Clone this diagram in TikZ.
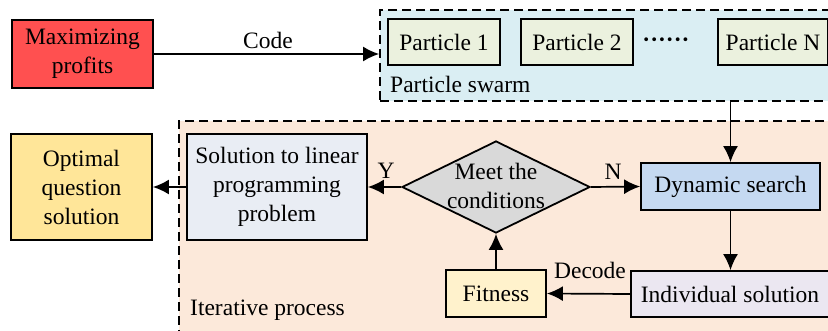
\documentclass[tikz,border=0pt]{standalone}
\usepackage{fontspec}
\setmainfont{Liberation Serif}
\usetikzlibrary{arrows.meta,shapes.geometric}
\definecolor{cRed}{HTML}{FF5050}
\definecolor{cSwarm}{HTML}{DAEEF3}
\definecolor{cPart}{HTML}{EBF1DE}
\definecolor{cIter}{HTML}{FCE9DA}
\definecolor{cDyn}{HTML}{C5D9F1}
\definecolor{cDiam}{HTML}{D9D9D9}
\definecolor{cInd}{HTML}{EBE7F1}
\definecolor{cFit}{HTML}{FFF2CC}
\definecolor{cSol}{HTML}{E9EDF4}
\definecolor{cOpt}{HTML}{FFE699}
\tikzset{
  box/.style={draw=black, line width=1.8pt, inner sep=0pt, align=center,
    font=\fontsize{23.5}{29}\selectfont},
  region/.style={draw=black, line width=1.8pt, dash pattern=on 9pt off 5pt, inner sep=0pt},
  arr/.style={line width=1.7pt, -{Latex[length=16pt,width=15pt]}},
  lbl/.style={inner sep=0pt, font=\fontsize{23.5}{29}\selectfont}
}
\begin{document}
\begin{tikzpicture}[x=1pt,y=-1pt]
\clip (0,0) rectangle (828,330);
\fill[white] (0,0) rectangle (828,330);

% grouping regions
\node[region, fill=cSwarm, minimum width=460pt, minimum height=91pt] (swarm) at (610,55.5) {};
\node[region, fill=cIter, minimum width=661pt, minimum height=219pt] (iter) at (509.5,230.5) {};
\node[lbl, anchor=west] (swarmlbl) at (390,84) {Particle swarm};
\node[lbl, anchor=west] (iterlbl) at (190,310) {Iterative process};

% blocks
\node[box, fill=cRed, minimum width=141pt, minimum height=68pt] (maxp) at (82.5,54) {Maximizing\\profits};
\node[box, fill=cPart, minimum width=112pt, minimum height=46pt] (p1) at (444,42) {Particle 1};
\node[box, fill=cPart, minimum width=112pt, minimum height=46pt] (p2) at (577,42) {Particle 2};
\node[lbl] (dots) at (666,43) {\textbf{······}};
\node[box, fill=cPart, minimum width=110pt, minimum height=46pt] (pn) at (773,42) {Particle N};

\node[box, fill=cDyn, minimum width=179pt, minimum height=47pt] (ds) at (730.5,186.5) {Dynamic search};
\node[draw=black, line width=1.8pt, fill=cDiam, diamond, inner sep=0pt,
      minimum width=188pt, minimum height=92pt] (cond) at (496,187) {};
\node[lbl, align=center] (condtxt) at (496,186) {Meet the\\conditions};
\node[box, fill=cInd, minimum width=198pt, minimum height=46pt] (ind) at (730,294) {Individual solution};
\node[box, fill=cFit, minimum width=100pt, minimum height=47pt] (fit) at (496,293.5) {Fitness};
\node[box, fill=cSol, minimum width=180pt, minimum height=106pt] (sol) at (277,187) {Solution to linear\\programming\\problem};
\node[box, fill=cOpt, minimum width=141pt, minimum height=106pt] (opt) at (81.5,187) {Optimal\\question\\solution};

% connectors
\draw[arr] (maxp.east) -- (swarm.west |- maxp.east);
\draw[arr] (ds.north |- swarm.south) -- (ds.north);
\draw[arr] (cond.east) -- (ds.west);
\draw[arr] (ds.south) -- (ind.north -| ds.south);
\draw[arr] (ind.west) -- (fit.east);
\draw[arr] (fit.north) -- (cond.south);
\draw[arr] (cond.west) -- (sol.east);
\draw[arr] (sol.west) -- (opt.east);

% connector labels
\node[lbl] (codelbl) at (268,40) {Code};
\node[lbl] (ylbl) at (386,171) {Y};
\node[lbl] (nlbl) at (613,172) {N};
\node[lbl] (declbl) at (590,270) {Decode};
\end{tikzpicture}
\end{document}
